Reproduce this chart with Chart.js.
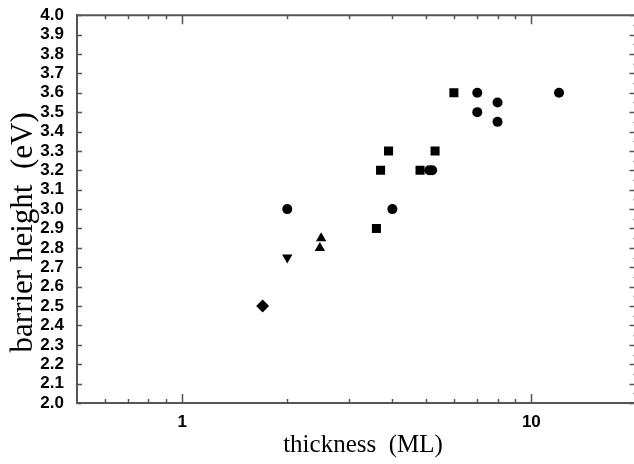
<!DOCTYPE html>
<html>
<head>
<meta charset="utf-8">
<script src="https://cdn.jsdelivr.net/npm/chart.js@4"></script>
<style>
  html, body { margin: 0; padding: 0; background: #fff; overflow: hidden; }
  /* il grafico originale e' tagliato sul bordo destro */
  #wrap { width: 643px; height: 464px; }
</style>
</head>
<body>
<div id="wrap"><canvas id="chart"></canvas></div>
<script>
// dati (spessore in ML, altezza barriera in eV)
const circleX = [2, 4, 5.1, 5.2, 7, 7, 8, 8, 12];
const circleY = [3.0, 3.0, 3.2, 3.2, 3.6, 3.5, 3.55, 3.45, 3.6];
const squareX = [3.6, 3.7, 3.9, 4.8, 5.3, 6];
const squareY = [2.9, 3.2, 3.3, 3.2, 3.3, 3.6];
const triUpX = [2.5, 2.48];
const triUpY = [2.85, 2.8];
const triDownX = [2];
const triDownY = [2.75];
const diamondX = [1.7];
const diamondY = [2.5];

// tacche e etichette degli assi
const xLabels = [1, 10];
const xMinorTicks = [0.6, 0.7, 0.8, 0.9, 2, 3, 4, 5, 6, 7, 8, 9];
const yTicks = [2.0, 2.1, 2.2, 2.3, 2.4, 2.5, 2.6, 2.7, 2.8, 2.9, 3.0,
                3.1, 3.2, 3.3, 3.4, 3.5, 3.6, 3.7, 3.8, 3.9, 4.0];

const axisColor = '#555';
const labelFont = { family: 'Liberation Sans', size: 17, weight: 'bold' };

function toPoints(xs, ys) {
  return xs.map((x, i) => ({ x: x, y: ys[i] }));
}

function pointSet(xs, ys, style, radius, rotation) {
  return {
    data: toPoints(xs, ys),
    pointStyle: style,
    pointRadius: radius,
    pointRotation: rotation || 0,
    pointBackgroundColor: '#000',
    pointBorderColor: '#000',
    pointBorderWidth: 0,
    showLine: false
  };
}

// tacche verso l'interno su tutti e quattro i lati
const frameTicks = {
  id: 'frameTicks',
  afterDraw(chart) {
    const { ctx, chartArea: a, scales: { x, y } } = chart;
    ctx.save();
    ctx.strokeStyle = axisColor;
    ctx.lineWidth = 2;
    ctx.beginPath();
    ctx.moveTo(a.left - 1, a.top);
    ctx.lineTo(a.right, a.top);
    ctx.stroke();
    ctx.lineWidth = 1.5;
    ctx.beginPath();
    const xTick = (v, len) => {
      const px = Math.round(x.getPixelForValue(v)) + 0.5;
      ctx.moveTo(px, a.bottom);
      ctx.lineTo(px, a.bottom - len);
      ctx.moveTo(px, a.top);
      ctx.lineTo(px, a.top + len);
    };
    xLabels.forEach(v => xTick(v, 9));
    xMinorTicks.forEach(v => xTick(v, 4));
    yTicks.forEach((v, i) => {
      const py = Math.round(y.getPixelForValue(v)) + 0.5;
      ctx.moveTo(a.left, py);
      ctx.lineTo(a.left + 5, py);
      ctx.moveTo(a.right, py);
      ctx.lineTo(a.right - 7, py);
      if (i > 0) {
        const pm = Math.round(y.getPixelForValue(v - 0.05)) + 0.5;
        ctx.moveTo(a.right, pm);
        ctx.lineTo(a.right - 3, pm);
      }
    });
    ctx.stroke();
    ctx.restore();
  }
};

const config = {
  type: 'scatter',
  data: {
    datasets: [
      pointSet(circleX, circleY, 'circle', 5),
      pointSet(squareX, squareY, 'rect', 6.4),
      pointSet(triUpX, triUpY, 'triangle', 6),
      pointSet(triDownX, triDownY, 'triangle', 6, 180),
      pointSet(diamondX, diamondY, 'rectRot', 6.5)
    ]
  },
  options: {
    responsive: true,
    maintainAspectRatio: false,
    animation: false,
    layout: { padding: { top: 12, right: 0, left: 0, bottom: 0 } },
    plugins: {
      legend: { display: false },
      tooltip: { enabled: false }
    },
    scales: {
      x: {
        type: 'logarithmic',
        position: 'bottom',
        min: 0.5,
        max: 20,
        afterBuildTicks: s => { s.ticks = xLabels.map(v => ({ value: v })); },
        afterFit: s => { s.height = 61; },
        grid: { display: false },
        border: { display: true, color: axisColor, width: 2 },
        ticks: {
          autoSkip: false,
          maxRotation: 0,
          padding: 1,
          color: '#000',
          font: labelFont,
          callback: v => String(v)
        },
        title: {
          display: true,
          text: '  thickness  (ML)',
          color: '#000',
          font: { family: 'Liberation Serif', size: 25 },
          padding: { top: 0, bottom: 4 }
        }
      },
      y: {
        type: 'linear',
        min: 2,
        max: 4,
        afterBuildTicks: s => { s.ticks = yTicks.map(v => ({ value: v })); },
        afterFit: s => { s.width = 77; },
        grid: { display: false },
        border: { display: true, color: axisColor, width: 2 },
        ticks: {
          autoSkip: false,
          padding: 5,
          color: '#000',
          font: labelFont,
          callback: v => Number(v).toFixed(1)
        },
        title: {
          display: true,
          text: 'barrier height  (eV)      ',
          color: '#000',
          font: { family: 'Liberation Serif', size: 31 },
          padding: { top: 5, bottom: 0 }
        }
      }
    }
  },
  plugins: [frameTicks]
};

const ctx = document.getElementById('chart').getContext('2d');
const chart = new Chart(ctx, config);
</script>
</body>
</html>
